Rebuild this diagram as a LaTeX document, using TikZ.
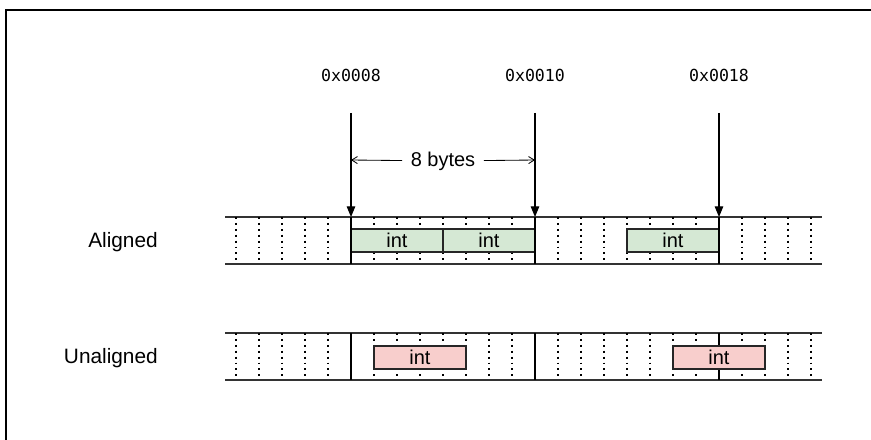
\documentclass[tikz,border=0pt]{standalone}
\usepackage{fontspec}
\setmainfont{Liberation Sans}
\setmonofont{DejaVu Sans Mono}
\usetikzlibrary{arrows.meta}

\definecolor{okfill}{HTML}{D5E8D4}
\definecolor{badfill}{HTML}{F8CECC}

\begin{document}
\begin{tikzpicture}[
  x=0.025cm, y=-0.025cm,
  rowline/.style={black!80,line width=1.1pt},
  celldiv/.style={black,line width=0.8pt,dash pattern=on 1.4pt off 2.8pt},
  memwall/.style={black,line width=1.9pt},
  addr/.style={font=\ttfamily\fontsize{11.8}{14}\selectfont,inner sep=0pt},
  pointer/.style={black,line width=0.75pt,-{Triangle[length=7.5pt,width=6pt]}},
  span/.style={black,line width=0.6pt,-{Straight Barb[length=4pt,width=5pt]}},
  rowname/.style={font=\fontsize{14.8}{18}\selectfont,anchor=base east,inner sep=0pt},
  intbox/.style={draw=black!85,line width=0.8pt,minimum width=2.3cm,minimum height=0.575cm,
    inner sep=0pt,outer sep=0pt,font=\fontsize{14.2}{17}\selectfont},
  okint/.style={intbox,fill=okfill},
  badint/.style={intbox,fill=badfill}
]
  \useasboundingbox (0,0) rectangle (871,440);
  \draw[line width=1.8pt] (6,440) -- (6,10) -- (871,10);

  \node[addr] (h8) at (351,75) {0x0008};
  \node[addr] (h10) at (535,75) {0x0010};
  \node[addr] (h18) at (719,75) {0x0018};
  \coordinate (p8) at (351,113);
  \coordinate (p10) at (535,113);
  \coordinate (p18) at (719,113);
  \coordinate (q8) at (351,217);
  \coordinate (q10) at (535,217);
  \coordinate (q18) at (719,217);
  \draw[pointer] (p8) -- (q8);
  \draw[pointer] (p10) -- (q10);
  \draw[pointer] (p18) -- (q18);

  \coordinate (s8) at (351,160);
  \coordinate (s10) at (535,160);
  \node[fill=white,inner xsep=6pt,font=\fontsize{14.2}{17}\selectfont] (bytes) at (443,161) {8 bytes};
  \draw[span] (bytes) -- (s8);
  \draw[span] (bytes) -- (s10);

  \node[rowname] (aligned) at (158,247) {Aligned};
  \node[rowname] (unaligned) at (158,363) {Unaligned};

  % aligned row
  \draw[rowline] (225,217) -- (822,217);
  \draw[rowline] (225,264) -- (822,264);
  \draw[celldiv] (236,217) -- (236,264);
  \draw[celldiv] (259,217) -- (259,264);
  \draw[celldiv] (282,217) -- (282,264);
  \draw[celldiv] (305,217) -- (305,264);
  \draw[celldiv] (328,217) -- (328,264);
  \draw[celldiv] (374,217) -- (374,264);
  \draw[celldiv] (397,217) -- (397,264);
  \draw[celldiv] (420,217) -- (420,264);
  \draw[celldiv] (443,217) -- (443,264);
  \draw[celldiv] (466,217) -- (466,264);
  \draw[celldiv] (489,217) -- (489,264);
  \draw[celldiv] (512,217) -- (512,264);
  \draw[celldiv] (558,217) -- (558,264);
  \draw[celldiv] (581,217) -- (581,264);
  \draw[celldiv] (604,217) -- (604,264);
  \draw[celldiv] (627,217) -- (627,264);
  \draw[celldiv] (650,217) -- (650,264);
  \draw[celldiv] (673,217) -- (673,264);
  \draw[celldiv] (696,217) -- (696,264);
  \draw[celldiv] (742,217) -- (742,264);
  \draw[celldiv] (765,217) -- (765,264);
  \draw[celldiv] (788,217) -- (788,264);
  \draw[celldiv] (811,217) -- (811,264);
  \node[okint] (a1) at (397,240.5) {int};
  \node[okint] (a2) at (489,240.5) {int};
  \node[okint] (a3) at (673,240.5) {int};
  \draw[memwall] (q8) -- (351,264);
  \draw[memwall] (q10) -- (535,264);
  \draw[memwall] (q18) -- (719,264);

  % unaligned row
  \draw[rowline] (225,333) -- (822,333);
  \draw[rowline] (225,380) -- (822,380);
  \draw[celldiv] (236,333) -- (236,380);
  \draw[celldiv] (259,333) -- (259,380);
  \draw[celldiv] (282,333) -- (282,380);
  \draw[celldiv] (305,333) -- (305,380);
  \draw[celldiv] (328,333) -- (328,380);
  \draw[celldiv] (374,333) -- (374,380);
  \draw[celldiv] (397,333) -- (397,380);
  \draw[celldiv] (420,333) -- (420,380);
  \draw[celldiv] (443,333) -- (443,380);
  \draw[celldiv] (466,333) -- (466,380);
  \draw[celldiv] (489,333) -- (489,380);
  \draw[celldiv] (512,333) -- (512,380);
  \draw[celldiv] (558,333) -- (558,380);
  \draw[celldiv] (581,333) -- (581,380);
  \draw[celldiv] (604,333) -- (604,380);
  \draw[celldiv] (627,333) -- (627,380);
  \draw[celldiv] (650,333) -- (650,380);
  \draw[celldiv] (673,333) -- (673,380);
  \draw[celldiv] (696,333) -- (696,380);
  \draw[celldiv] (742,333) -- (742,380);
  \draw[celldiv] (765,333) -- (765,380);
  \draw[celldiv] (788,333) -- (788,380);
  \draw[celldiv] (811,333) -- (811,380);
  \draw[memwall] (351,333) -- (351,380);
  \draw[memwall] (535,333) -- (535,380);
  \draw[memwall] (719,333) -- (719,380);
  \node[badint] (u1) at (420,357.5) {int};
  \node[badint] (u2) at (719,357.5) {int};
\end{tikzpicture}
\end{document}
